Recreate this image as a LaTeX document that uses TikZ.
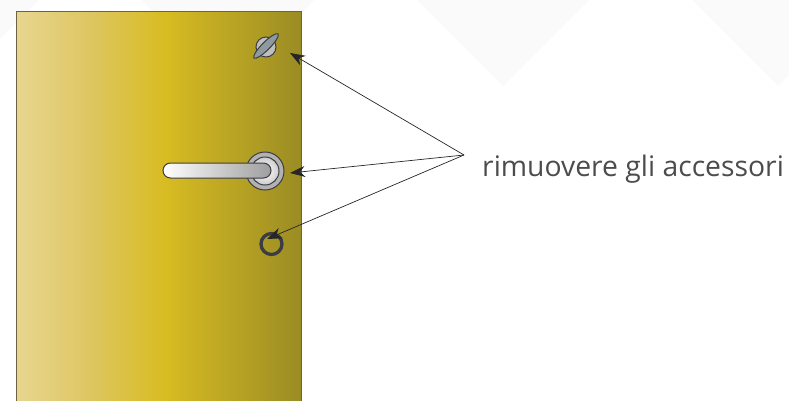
\documentclass[tikz,border=0pt]{standalone}
\usepackage{fontspec}
\setmainfont{Open Sans}
\definecolor{DoorEdge}{HTML}{6B6440}
\definecolor{ScrewGrey}{HTML}{8E9A9E}
\definecolor{PartDark}{HTML}{3C3C44}
\definecolor{WatermarkGrey}{HTML}{FAFAFA}
\definecolor{DoorA}{HTML}{E8D690}
\definecolor{DoorB}{HTML}{DDC660}
\definecolor{DoorC}{HTML}{D8BC22}
\definecolor{DoorD}{HTML}{9A8C24}
\pgfdeclarehorizontalshading{doorshade}{100bp}{color(0bp)=(DoorA); color(25bp)=(DoorA);
  color(38bp)=(DoorB); color(51bp)=(DoorC); color(75bp)=(DoorD); color(100bp)=(DoorD)}
\usetikzlibrary{arrows.meta, positioning, shapes.geometric}

\begin{document}
\begin{tikzpicture}[>={Stealth[length=15pt,width=11pt]}, x=1pt, y=-1pt,
    callout/.style={->, draw=black!85, line width=0.7pt},
    part/.style={draw=PartDark, line width=1pt, inner sep=0pt},
    disc/.style={part, circle, minimum size=#1}]
  \useasboundingbox (0,0) rectangle (789,400);
  % Background
  \fill[WatermarkGrey] (-133,0) -- (-47,86) -- (39,0) -- cycle;
  \fill[WatermarkGrey] (141,0) -- (228,86) -- (314,0) -- cycle;
  \fill[WatermarkGrey] (417,0) -- (503,86) -- (589,0) -- cycle;
  \fill[WatermarkGrey] (692,0) -- (778,86) -- (864,0) -- cycle;
  % Door
  \node[draw=DoorEdge, line width=1pt, shading=doorshade, minimum width=285pt,
        minimum height=400pt, inner sep=0pt, anchor=north west] (door) at (16,11) {};
  % Screw
  \node[disc=20pt, fill=black!25] (screw) at (266,47) {};
  \node[part, ellipse, fill=ScrewGrey, minimum width=34pt, minimum height=8pt,
        rotate=45] (slot) at (266,46) {};
  % Handle
  \node[disc=38pt, fill=black!30] (rose) at (265,171) {};
  \node[disc=28pt, inner color=white, outer color=black!20] (collar) at (265,171) {};
  \node[part, rounded corners=7.5pt, minimum width=108pt, minimum height=15pt,
        left color=white, right color=black!38] (lever) at (217,170.5) {};
  % Ring
  \node[circle, draw=PartDark, line width=3.3pt, minimum size=21pt, inner sep=0pt] (ring) at (271.5,244) {};
  % Label
  \node[anchor=base west, font=\fontsize{28.3}{32}\selectfont, text=black!70, inner sep=0pt] (label) at (482,176) {rimuovere gli accessori};
  % Callouts
  \coordinate (hub) at (464,155);
  \coordinate (tipscrew) at (290,53);
  \coordinate (tiphandle) at (290,173);
  \coordinate (tipring) at (267,239);
  \draw[callout] (hub) -- (tipscrew);
  \draw[callout] (hub) -- (tiphandle);
  \draw[callout] (hub) -- (tipring);
\end{tikzpicture}
\end{document}
